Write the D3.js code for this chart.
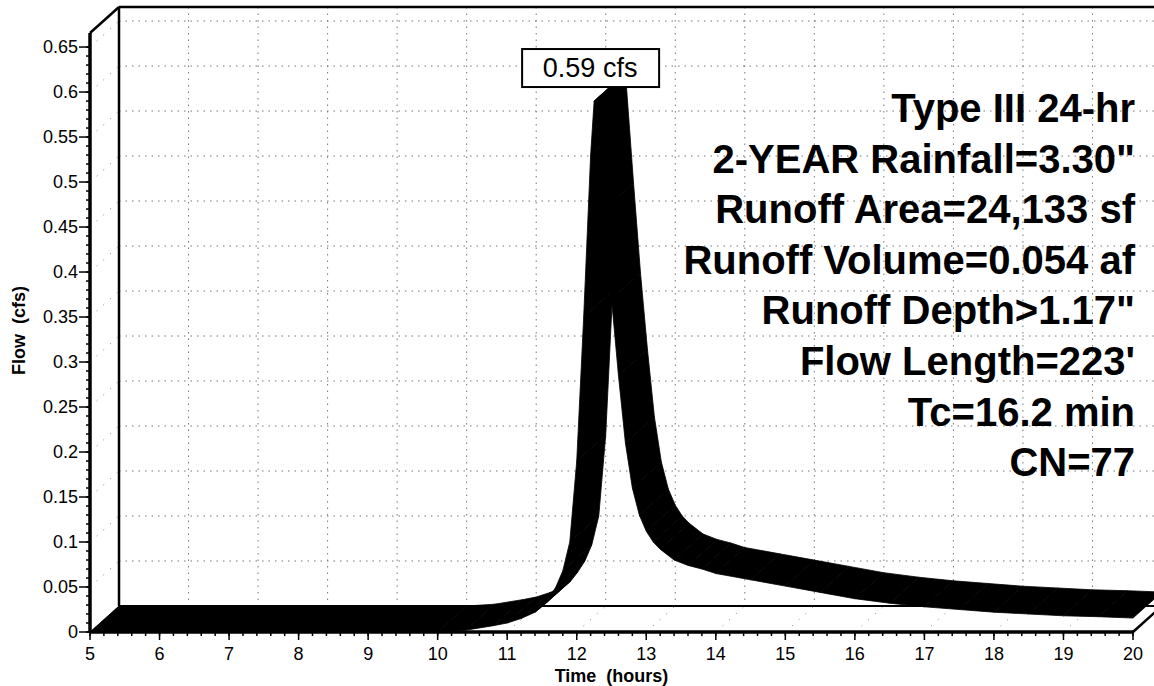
<!DOCTYPE html>
<html>
<head>
<meta charset="utf-8">
<script src="https://cdn.jsdelivr.net/npm/d3@7"></script>
<style>
  html, body { margin: 0; padding: 0; background: #fff; }
  svg { display: block; font-family: "Liberation Sans", Arial, sans-serif; }
</style>
</head>
<body>
<div id="chart"></div>
<script>
// Hydrograph values (time in hours, flow in cfs)
const hours = [5.0, 10.0, 10.4, 10.8, 11.0, 11.2, 11.4, 11.5, 11.6, 11.7, 11.8, 11.9,
  12.0, 12.1, 12.2, 12.25, 12.3, 12.4, 12.5, 12.6, 12.7, 12.8, 12.9, 13.0, 13.1, 13.2,
  13.4, 13.6, 13.8, 14.0, 14.5, 15.0, 15.5, 16.0, 16.5, 17.0, 17.5, 18.0, 18.5, 19.0, 19.5, 20.0];
const flows = [0, 0, 0.002, 0.007, 0.010, 0.015, 0.022, 0.028, 0.038, 0.050, 0.068, 0.10,
  0.19, 0.35, 0.53, 0.59, 0.575, 0.47, 0.37, 0.285, 0.21, 0.16, 0.13, 0.112, 0.10, 0.092,
  0.080, 0.074, 0.070, 0.065, 0.058, 0.051, 0.044, 0.037, 0.032, 0.028, 0.025, 0.022, 0.020, 0.018, 0.017, 0.0155];

const xTickValues = d3.range(5, 21, 1);
const yTickValues = [0, 0.05, 0.1, 0.15, 0.2, 0.25, 0.3, 0.35, 0.4, 0.45, 0.5, 0.55, 0.6, 0.65];
const yTickLabels = ["0", "0.05", "0.1", "0.15", "0.2", "0.25", "0.3", "0.35", "0.4", "0.45", "0.5", "0.55", "0.6", "0.65"];

const peakLabel = "0.59 cfs";
const infoLines = [
  "Type III 24-hr",
  "2-YEAR Rainfall=3.30\"",
  "Runoff Area=24,133 sf",
  "Runoff Volume=0.054 af",
  "Runoff Depth>1.17\"",
  "Flow Length=223'",
  "Tc=16.2 min",
  "CN=77"
];

const width = 1154;
const height = 686;

// depth offset of the back plane
const dx = 29;
const dy = -26;

const x = d3.scaleLinear().domain([5, 20]).range([90, 1133]);
const y = d3.scaleLinear().domain([0, 0.6656]).range([632, 33]);

const svg = d3.select("#chart")
  .append("svg")
  .attr("width", width)
  .attr("height", height);

const grid = svg.append("g")
  .attr("stroke", "#777")
  .attr("stroke-width", 1)
  .attr("stroke-dasharray", "1.5,5");

// back plane grid
grid.selectAll(".vgrid")
  .data(xTickValues.slice(1))
  .enter().append("line")
  .attr("x1", d => x(d) + dx)
  .attr("x2", d => x(d) + dx)
  .attr("y1", y.range()[1] + dy)
  .attr("y2", y(0) + dy);

grid.selectAll(".hgrid")
  .data(yTickValues.slice(1))
  .enter().append("line")
  .attr("x1", x(5) + dx)
  .attr("x2", x(20) + dx)
  .attr("y1", d => y(d) + dy)
  .attr("y2", d => y(d) + dy);

// side wall and floor grid (diagonals)
grid.selectAll(".wgrid")
  .data(yTickValues.slice(1))
  .enter().append("line")
  .attr("stroke-dasharray", "1,8")
  .attr("x1", x(5))
  .attr("x2", x(5) + dx)
  .attr("y1", d => y(d))
  .attr("y2", d => y(d) + dy);

grid.selectAll(".fgrid")
  .data(xTickValues.slice(1, -1))
  .enter().append("line")
  .attr("stroke-dasharray", "1,8")
  .attr("x1", d => x(d))
  .attr("x2", d => x(d) + dx)
  .attr("y1", y(0))
  .attr("y2", y(0) + dy);

// frame of the box
const frame = svg.append("g").attr("stroke", "#000").attr("fill", "none");
frame.append("line") // back baseline
  .attr("x1", x(5) + dx).attr("x2", x(20) + dx)
  .attr("y1", y(0) + dy).attr("y2", y(0) + dy)
  .attr("stroke-width", 2);
frame.append("line") // back vertical
  .attr("x1", x(5) + dx).attr("x2", x(5) + dx)
  .attr("y1", y.range()[1] + dy).attr("y2", y(0) + dy)
  .attr("stroke-width", 2.5);
frame.append("line") // top back edge
  .attr("x1", x(5) + dx).attr("x2", x(20) + dx)
  .attr("y1", y.range()[1] + dy).attr("y2", y.range()[1] + dy)
  .attr("stroke-width", 2.5);
frame.append("line") // top left diagonal
  .attr("x1", x(5)).attr("x2", x(5) + dx)
  .attr("y1", y.range()[1]).attr("y2", y.range()[1] + dy)
  .attr("stroke-width", 2.5);
frame.append("line") // bottom right diagonal
  .attr("x1", x(20)).attr("x2", x(20) + dx)
  .attr("y1", y(0)).attr("y2", y(0) + dy)
  .attr("stroke-width", 2.5);

// hydrograph ribbon: one quad per segment between front and back curves
const pts = hours.map((h, i) => ({ h: h, q: flows[i] }));
const segs = d3.pairs(pts);
svg.append("g")
  .selectAll("polygon")
  .data(segs)
  .enter().append("polygon")
  .attr("fill", "#000")
  .attr("stroke", "#000")
  .attr("stroke-width", 0.8)
  .attr("stroke-linejoin", "round")
  .attr("points", ([a, b]) => [
    [x(a.h), y(a.q)],
    [x(b.h), y(b.q)],
    [x(b.h) + dx, y(b.q) + dy],
    [x(a.h) + dx, y(a.q) + dy]
  ].join(" "));
// end cap at the left
svg.append("polygon")
  .attr("fill", "#000")
  .attr("points", [[x(5), y(0)], [x(5) + dx, y(0) + dy], [x(5) + dx, y(0) + dy + 2], [x(5), y(0) + 2]].join(" "));

// front axes
const axes = svg.append("g").attr("stroke", "#000");
axes.append("line")
  .attr("x1", x(5)).attr("x2", x(5))
  .attr("y1", y.range()[1]).attr("y2", y(0) + 1)
  .attr("stroke-width", 3.5);
axes.append("line")
  .attr("x1", x(5)).attr("x2", x(20))
  .attr("y1", y(0)).attr("y2", y(0))
  .attr("stroke-width", 3.5);

// y ticks
axes.selectAll(".ymin")
  .data(d3.range(0, 66, 1).map(d => d / 100))
  .enter().append("line")
  .attr("x1", x(5) - 4).attr("x2", x(5))
  .attr("y1", d => y(d)).attr("y2", d => y(d))
  .attr("stroke-width", 1.5);
axes.selectAll(".ymaj")
  .data(yTickValues)
  .enter().append("line")
  .attr("x1", x(5) - 11).attr("x2", x(5))
  .attr("y1", d => y(d)).attr("y2", d => y(d))
  .attr("stroke-width", 1.5);

// x ticks
axes.selectAll(".xmin")
  .data(d3.range(0, 76, 1).map(d => 5 + d / 5))
  .enter().append("line")
  .attr("x1", d => x(d)).attr("x2", d => x(d))
  .attr("y1", y(0)).attr("y2", y(0) + 4)
  .attr("stroke-width", 1.5);
axes.selectAll(".xmaj")
  .data(xTickValues)
  .enter().append("line")
  .attr("x1", d => x(d)).attr("x2", d => x(d))
  .attr("y1", y(0)).attr("y2", y(0) + 8)
  .attr("stroke-width", 1.5);

// tick labels
svg.append("g")
  .selectAll("text")
  .data(yTickValues)
  .enter().append("text")
  .attr("x", x(5) - 12)
  .attr("y", d => y(d) + 6)
  .attr("text-anchor", "end")
  .attr("font-size", "18px")
  .text((d, i) => yTickLabels[i]);

svg.append("g")
  .selectAll("text")
  .data(xTickValues)
  .enter().append("text")
  .attr("x", d => x(d))
  .attr("y", 660)
  .attr("text-anchor", "middle")
  .attr("font-size", "18px")
  .text(d => d);

// axis titles
svg.append("text")
  .attr("transform", "translate(25," + y(0.335) + ") rotate(-90)")
  .attr("text-anchor", "middle")
  .attr("font-size", "18px")
  .attr("font-weight", "bold")
  .style("white-space", "pre")
  .text("Flow  (cfs)");

svg.append("text")
  .attr("x", x(12.5))
  .attr("y", 682)
  .attr("text-anchor", "middle")
  .attr("font-size", "18px")
  .attr("font-weight", "bold")
  .style("white-space", "pre")
  .text("Time  (hours)");

// info block on the right
svg.append("g")
  .selectAll("text")
  .data(infoLines)
  .enter().append("text")
  .attr("x", 1135)
  .attr("y", (d, i) => 122 + i * 50.6)
  .attr("text-anchor", "end")
  .attr("font-size", "40px")
  .attr("font-weight", "bold")
  .text(d => d);

// peak label box
const iPeak = d3.maxIndex(flows);
const px = x(hours[iPeak]) - 4;
const py = y(flows[iPeak]) - 14;
const box = svg.append("g");
box.append("rect")
  .attr("x", px - 68)
  .attr("y", py - 38)
  .attr("width", 137)
  .attr("height", 38)
  .attr("fill", "#fff")
  .attr("stroke", "#000")
  .attr("stroke-width", 2);
box.append("text")
  .attr("x", px)
  .attr("y", py - 10)
  .attr("text-anchor", "middle")
  .attr("font-size", "27px")
  .text(peakLabel);
</script>
</body>
</html>
